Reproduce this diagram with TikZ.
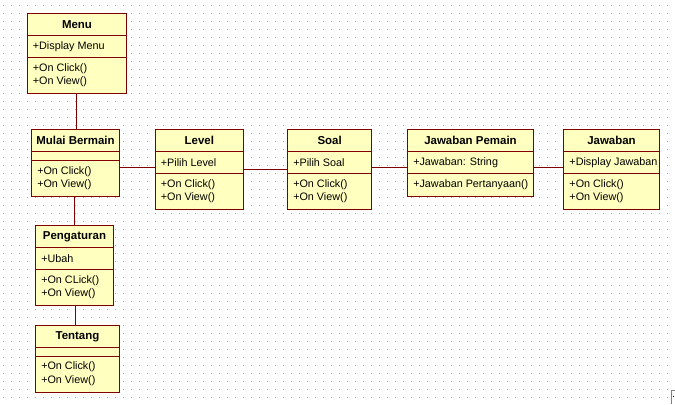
\documentclass[tikz,border=0pt]{standalone}
\usepackage{fontspec}
\setmainfont{Liberation Sans}
\usetikzlibrary{fit}
\definecolor{umlborder}{HTML}{800000}
\definecolor{umlfill}{HTML}{FFFFC0}
\definecolor{griddot}{HTML}{A8A8A8}
\tikzset{
  classbox/.style={draw=umlborder, fill=umlfill, line width=0.75pt, inner sep=0pt},
  sepline/.style={draw=umlborder, line width=0.75pt},
  assoc/.style={draw=umlborder, line width=0.75pt},
  ctitle/.style={inner sep=0pt, font=\fontsize{8.6}{10}\selectfont\bfseries},
  cmember/.style={inner sep=0pt, anchor=west, font=\fontsize{8.1}{10}\selectfont},
}
\begin{document}
\begin{tikzpicture}[x=0.75pt,y=-0.75pt]
\useasboundingbox (0,0) rectangle (675,404);
\fill[white] (0,0) rectangle (675,404);
% dotted grid
\foreach \k in {0,...,49}{
  \draw[griddot, line width=0.75pt, dash pattern=on 0.75pt off 5.25pt] (3,5.5+8*\k) -- (675,5.5+8*\k);
}
% ---------- Menu
\node[classbox, fit={(27.3,13.3) (126.7,93.3)}] (menu) {};
\draw[sepline] (menu.west |- 0,35) -- (menu.east |- 0,35);
\draw[sepline] (menu.west |- 0,57.3) -- (menu.east |- 0,57.3);
\node[ctitle] (menut) at (menu.north |- 0,24.5) {Menu};
\node[cmember] (menua) at (32.6,46.6) {+Display Menu};
\node[cmember] (menum1) at (32.6,68.4) {+On Click()};
\node[cmember] (menum2) at (32.6,81.4) {+On View()};
% ---------- Mulai Bermain
\node[classbox, fit={(31.7,129.3) (119.3,196)}] (mulai) {};
\draw[sepline] (mulai.west |- 0,151.7) -- (mulai.east |- 0,151.7);
\draw[sepline] (mulai.west |- 0,160.3) -- (mulai.east |- 0,160.3);
\node[ctitle] (mulait) at (mulai.north |- 0,140.8) {Mulai Bermain};
\node[cmember] (mulaim1) at (37,171.4) {+On Click()};
\node[cmember] (mulaim2) at (37,184.4) {+On View()};
% ---------- Level
\node[classbox, fit={(155.3,129.3) (243.3,209.3)}] (level) {};
\draw[sepline] (level.west |- 0,151.7) -- (level.east |- 0,151.7);
\draw[sepline] (level.west |- 0,173.3) -- (level.east |- 0,173.3);
\node[ctitle] (levelt) at (level.north |- 0,140.8) {Level};
\node[cmember] (levela) at (160.6,162.9) {+Pilih Level};
\node[cmember] (levelm1) at (160.6,184.4) {+On Click()};
\node[cmember] (levelm2) at (160.6,197.4) {+On View()};
% ---------- Soal
\node[classbox, fit={(287.7,129.7) (371.7,209.3)}] (soal) {};
\draw[sepline] (soal.west |- 0,151.7) -- (soal.east |- 0,151.7);
\draw[sepline] (soal.west |- 0,173.3) -- (soal.east |- 0,173.3);
\node[ctitle] (soalt) at (soal.north |- 0,140.8) {Soal};
\node[cmember] (soala) at (293,162.9) {+Pilih Soal};
\node[cmember] (soalm1) at (293,184.4) {+On Click()};
\node[cmember] (soalm2) at (293,197.4) {+On View()};
% ---------- Jawaban Pemain
\node[classbox, fit={(407.7,129.7) (533.3,196.3)}] (jp) {};
\draw[sepline] (jp.west |- 0,151.7) -- (jp.east |- 0,151.7);
\draw[sepline] (jp.west |- 0,173.3) -- (jp.east |- 0,173.3);
\node[ctitle] (jpt) at (jp.north |- 0,140.8) {Jawaban Pemain};
\node[cmember] (jpa) at (413,162.9) {+Jawaban: String};
\node[cmember] (jpm1) at (413,184.4) {+Jawaban Pertanyaan()};
% ---------- Jawaban
\node[classbox, fit={(563.7,129.7) (659.3,209.3)}] (jaw) {};
\draw[sepline] (jaw.west |- 0,151.7) -- (jaw.east |- 0,151.7);
\draw[sepline] (jaw.west |- 0,173.3) -- (jaw.east |- 0,173.3);
\node[ctitle] (jawt) at (jaw.north |- 0,140.8) {Jawaban};
\node[cmember] (jawa) at (569.2,162.9) {+Display Jawaban};
\node[cmember] (jawm1) at (569.2,184.4) {+On Click()};
\node[cmember] (jawm2) at (569.2,197.4) {+On View()};
% ---------- Pengaturan
\node[classbox, fit={(35.7,225.7) (113.3,305.3)}] (peng) {};
\draw[sepline] (peng.west |- 0,247.7) -- (peng.east |- 0,247.7);
\draw[sepline] (peng.west |- 0,269.7) -- (peng.east |- 0,269.7);
\node[ctitle] (pengt) at (peng.north |- 0,237) {Pengaturan};
\node[cmember] (penga) at (41,259) {+Ubah};
\node[cmember] (pengm1) at (41,280.4) {+On CLick()};
\node[cmember] (pengm2) at (41,293.4) {+On View()};
% ---------- Tentang
\node[classbox, fit={(35.7,325.7) (119.3,392.3)}] (tent) {};
\draw[sepline] (tent.west |- 0,347.3) -- (tent.east |- 0,347.3);
\draw[sepline] (tent.west |- 0,356.3) -- (tent.east |- 0,356.3);
\node[ctitle] (tentt) at (tent.north |- 0,336.8) {Tentang};
\node[cmember] (tentm1) at (41,367) {+On Click()};
\node[cmember] (tentm2) at (41,380.3) {+On View()};
% ---------- associations
\draw[assoc] (menu.south -| 76.7,0) -- (mulai.north -| 76.7,0);
\draw[assoc] (mulai.east |- 0,167.3) -- (level.west |- 0,167.3);
\draw[assoc] (mulai.south -| 74.7,0) -- (peng.north -| 74.7,0);
\draw[assoc] (peng.south -| 75.3,0) -- (tent.north -| 75.3,0);
\draw[assoc] (level.east |- 0,169.3) -- (soal.west |- 0,169.3);
\draw[assoc] (soal.east |- 0,167.3) -- (jp.west |- 0,167.3);
\draw[assoc] (jp.east |- 0,167.3) -- (jaw.west |- 0,167.3);
% corner artifact
\draw[gray, line width=0.75pt] (671.5,404) -- (671.5,390.5) -- (675,390.5);
\fill[black] (673,396) rectangle (674,397);
\end{tikzpicture}
\end{document}
